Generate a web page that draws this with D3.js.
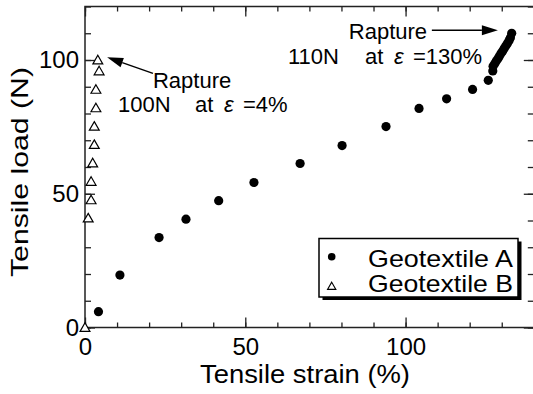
<!DOCTYPE html>
<html>
<head>
<meta charset="utf-8">
<script src="https://cdn.jsdelivr.net/npm/d3@7"></script>
<style>
  html, body { margin: 0; padding: 0; background: #fff; }
  svg { display: block; }
  text { font-family: "Liberation Sans", Arial, Helvetica, sans-serif; fill: #000; }
</style>
</head>
<body>
<svg id="chart" width="533" height="394"></svg>
<script>
// Geotextile A: tensile strain (%) and tensile load (N)
const strainA = [4.2, 10.9, 23.1, 31.5, 41.7, 52.7, 67.1, 80.2, 93.9, 104.2, 112.8, 120.9, 125.8, 127.2,
                 127.3, 127.8, 128.3, 128.8, 129.3, 129.8, 130.3, 130.8, 131.3, 131.8, 132.3, 132.7, 133.1];
const loadA   = [5.9, 19.6, 33.6, 40.5, 47.4, 54.2, 61.3, 68.0, 75.1, 81.9, 85.5, 89.0, 92.4, 95.9,
                 97.7, 98.6, 99.6, 100.5, 101.5, 102.5, 103.4, 104.4, 105.3, 106.3, 107.3, 108.3, 110];
// Geotextile B
const strainB = [0, 1.0, 1.9, 1.9, 2.4, 2.9, 2.9, 3.4, 3.4, 4.4, 4.0];
const loadB   = [0, 40.9, 47.7, 54.6, 61.5, 68.4, 75.2, 82.1, 89.0, 95.9, 100];

const xMajor = [0, 50, 100];
const yMajor = [0, 50, 100];
const xMinor = d3.range(0, 141, 10);
const yMinor = d3.range(0, 121, 10);
const legendLabels = ["Geotextile A", "Geotextile B"];

const svg = d3.select("#chart");
const x = d3.scaleLinear().domain([0, 140]).range([85, 533.8]);
const y = d3.scaleLinear().domain([0, 120]).range([327.5, 6.5]);

const axisColor = "#222";
const frame = svg.append("g");

// frame lines
frame.append("rect")
  .attr("x", x(0)).attr("y", y(120))
  .attr("width", x(140) - x(0)).attr("height", y(0) - y(120))
  .attr("fill", "none").attr("stroke", axisColor).attr("stroke-width", 1.5);

function styleAxis(g) {
  g.select(".domain").remove();
  g.selectAll(".tick line").attr("stroke", axisColor).attr("stroke-width", 1.3);
  g.selectAll("text").attr("font-size", 24).attr("fill", "#000")
    .attr("font-family", "'Liberation Sans', Arial, sans-serif");
}

// bottom / top ticks
svg.append("g").attr("transform", `translate(0,${y(0)})`)
  .call(d3.axisBottom(x).tickValues(xMinor).tickSize(-5).tickFormat("")).call(styleAxis);
svg.append("g").attr("transform", `translate(0,${y(0)})`)
  .call(d3.axisBottom(x).tickValues(xMajor).tickSize(-10).tickPadding(10.5).tickFormat(d3.format("d")))
  .call(styleAxis);
svg.append("g").attr("transform", `translate(0,${y(120)})`)
  .call(d3.axisTop(x).tickValues(xMinor).tickSize(-5).tickFormat("")).call(styleAxis);
svg.append("g").attr("transform", `translate(0,${y(120)})`)
  .call(d3.axisTop(x).tickValues(xMajor).tickSize(-10).tickFormat("")).call(styleAxis);

// left / right ticks
svg.append("g").attr("transform", `translate(${x(0)},0)`)
  .call(d3.axisLeft(y).tickValues(yMinor).tickSize(-6).tickFormat("")).call(styleAxis);
svg.append("g").attr("transform", `translate(${x(0)},0)`)
  .call(d3.axisLeft(y).tickValues(yMajor).tickSize(-10).tickPadding(6).tickFormat(d3.format("d")))
  .call(styleAxis);
svg.append("g").attr("transform", `translate(${x(140)},0)`)
  .call(d3.axisRight(y).tickValues(yMinor).tickSize(-6).tickFormat("")).call(styleAxis);
svg.append("g").attr("transform", `translate(${x(140)},0)`)
  .call(d3.axisRight(y).tickValues(yMajor).tickSize(-10).tickFormat("")).call(styleAxis);

// axis titles
svg.append("text")
  .attr("x", 305).attr("y", 383)
  .attr("text-anchor", "middle").attr("font-size", 25)
  .attr("textLength", 210).attr("lengthAdjust", "spacingAndGlyphs")
  .text("Tensile strain (%)");
svg.append("text")
  .attr("transform", "translate(28,172) rotate(-90)")
  .attr("text-anchor", "middle").attr("font-size", 24)
  .attr("textLength", 210).attr("lengthAdjust", "spacingAndGlyphs")
  .text("Tensile load (N)");

// data marks
const dataA = strainA.map((s, i) => ({ s, l: loadA[i] }));
const dataB = strainB.map((s, i) => ({ s, l: loadB[i] }));

svg.append("g").selectAll("circle").data(dataA).join("circle")
  .attr("cx", d => x(d.s)).attr("cy", d => y(d.l)).attr("r", 4.6).attr("fill", "#000");

const tri = d3.symbol().type(d3.symbolTriangle).size(42);
svg.append("g").selectAll("path").data(dataB).join("path")
  .attr("d", tri)
  .attr("transform", d => `translate(${x(d.s)},${y(d.l) + 1})`)
  .attr("fill", "#fff").attr("stroke", "#000").attr("stroke-width", 1.2);

// rupture annotations
function arrow(x1, y1, x2, y2) {
  const px1 = x(x1), py1 = y(y1), px2 = x(x2), py2 = y(y2);
  const ang = Math.atan2(py2 - py1, px2 - px1);
  const len = 16, hw = 5;
  const bx = px2 - len * Math.cos(ang), by = py2 - len * Math.sin(ang);
  svg.append("line")
    .attr("x1", px1).attr("y1", py1).attr("x2", bx).attr("y2", by)
    .attr("stroke", "#000").attr("stroke-width", 1.5);
  svg.append("path")
    .attr("d", `M${px2},${py2}L${bx - hw * Math.sin(ang)},${by + hw * Math.cos(ang)}L${bx + hw * Math.sin(ang)},${by - hw * Math.cos(ang)}Z`)
    .attr("fill", "#000");
}

function note(tx, ty, lx, ly, load, strain) {
  svg.append("text").attr("x", x(tx)).attr("y", y(ty)).attr("font-size", 22).text("Rapture");
  const bx = x(lx), t = svg.append("text").attr("y", y(ly)).attr("font-size", 22);
  t.append("tspan").attr("x", bx).text(load);
  t.append("tspan").attr("x", bx + 77).text("at");
  t.append("tspan").attr("x", bx + 106).attr("font-style", "italic").text("ε");
  t.append("tspan").attr("x", bx + 125).text(strain);
}

arrow(21.2, 95, 6.9, 101);
note(21.2, 89.7, 10.3, 80.4, "100N", "=4%");
arrow(108.2, 111.1, 128.8, 111.1);
note(82.3, 107.9, 63.3, 98.4, "110N", "=130%");

// legend
const lg = svg.append("g");
lg.append("rect").attr("x", 322.5).attr("y", 241.5).attr("width", 199).attr("height", 58.5).attr("fill", "#000");
lg.append("rect").attr("x", 319).attr("y", 238.5).attr("width", 199).attr("height", 58.5)
  .attr("fill", "#fff").attr("stroke", "#000").attr("stroke-width", 1.5);
lg.append("circle").attr("cx", 331.7).attr("cy", 256.7).attr("r", 3.8).attr("fill", "#000");
lg.append("path").attr("d", d3.symbol().type(d3.symbolTriangle).size(30))
  .attr("transform", "translate(331.7,287)")
  .attr("fill", "#fff").attr("stroke", "#000").attr("stroke-width", 1.1);
legendLabels.forEach((lab, i) => {
  lg.append("text").attr("x", 368).attr("y", 266.7 + i * 25)
    .attr("font-size", 24).attr("textLength", 145).attr("lengthAdjust", "spacingAndGlyphs")
    .text(lab);
});
</script>
</body>
</html>
